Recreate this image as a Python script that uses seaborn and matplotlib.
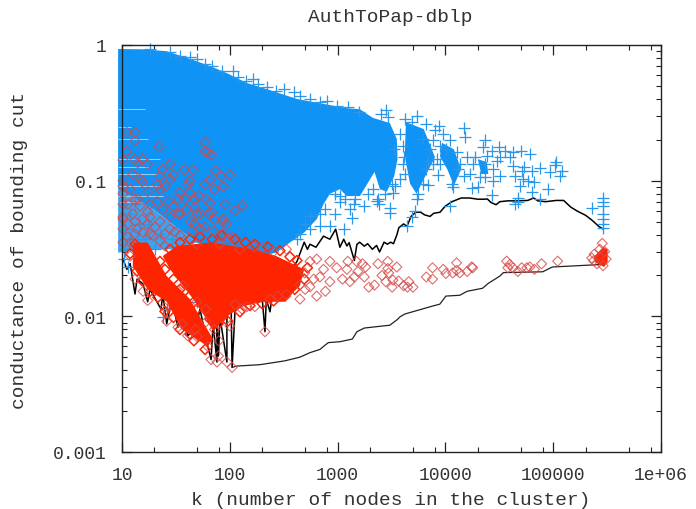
import matplotlib
matplotlib.use('Agg')
import matplotlib.pyplot as plt
import seaborn as sns

TITLE = 'AuthToPap-dblp'
X_LABEL = 'k (number of nodes in the cluster)'
Y_LABEL = 'conductance of bounding cut'
X_TICKS = [10, 100, 1000, 10000, 100000, 1000000]
X_TICK_LABELS = ['10', '100', '1000', '10000', '100000', '1e+06']
Y_TICKS = [0.001, 0.01, 0.1, 1]
Y_TICK_LABELS = ['0.001', '0.01', '0.1', '1']

BLUE = '#0f93f5'
RED = '#ff2400'

# dense part of the + cloud, outline
blue_k = [9.2, 15.7, 26, 42.7, 65.5, 94, 144, 220, 420, 740, 1220, 1610, 2130, 3050, 3540, 3600, 3350, 2860, 2470,
          2200, 1610, 1220, 1050, 848, 740, 640, 490, 361, 270, 190, 100, 49, 19.4, 9.2]
blue_phi = [.934, .93, .90, .79, .70, .62, .525, .473, .40, .368, .342, .336, .29, .266, .203, .144, .108, .083, .0865,
            .116, .077, .077, .0865, .08, .067, .052, .0415, .035, .0295, .0278, .0288, .035, .0616, .0865]
blob_b_k = [4300, 6300, 8000, 6400, 5400, 4700, 4200]
blob_b_phi = [.27, .24, .149, .105, .08, .095, .151]
blob_c_k = [9300, 12000, 14000, 12000, 10400, 8900]
blob_c_phi = [.19, .17, .1215, .092, .1215, .151]
blob_d_k = [20000, 24200, 25000, 21500]
blob_d_phi = [.144, .137, .112, .112]
lattice_k = [9.2, 19.4, 49, 32, 18.2, 9.2]
lattice_phi = [.0865, .0616, .035, .0312, .0312, .0295]

# pale gaps in the columns at small k
stripe_phi = [.337, .248, .202, .144, .126, .112, .091, .077, .070]
stripe_k = [16.3, 12, 17.3, 22.5, 17.3, 21.2, 22.5, 23.9, 15.4]

# single + marks
plus_k = [1250, 1570, 2520, 2800, 2920, 5400, 4880, 6650, 8700, 14800, 15100, 9550, 11000, 8000, 7600, 23200, 22100,
          27000, 31300, 35600, 42300, 50000, 60700, 107000, 103000, 93000, 120000, 115000, 75200, 51000, 63000, 54000,
          44000, 32000, 27500, 20900, 20000, 17500, 14800, 11700, 6900, 8500, 27000, 47000, 47000, 75200, 89000, 63000,
          67000, 49000, 44000, 228000, 290000, 290000, 290000, 290000, 290000, 290000, 290000, 5400, 5250, 3050, 3050,
          1770, 1370, 1140, 2300, 2420, 1420, 3260, 2130, 4880, 4450, 11000, 32000, 39600, 15700, 17900, 24200, 29900,
          42300, 58000, 52500, 8880, 8300, 12700, 13100, 3780, 3400, 6650, 6900, 7170, 4000, 4100,
          10.7, 11.9, 13.2, 14.7, 10.7, 11.9, 16.3, 10.7, 13.2, 11.4, 10.4, 15.6, 49.5, 23.9, 26, 18.2, 20.3, 14, 17.6,
          22.5, 29]
plus_phi = [.35, .32, .31, .33, .295, .30, .27, .26, .255, .245, .21, .22, .20, .235, .20, .20, .178,
            .165, .178, .165, .162, .165, .157, .137, .13, .116, .118, .108, .124, .118, .118, .126,
            .108, .108, .10, .106, .09, .088, .108, .09, .093, .11, .078, .075, .07, .073, .0865, .083,
            .097, .091, .067, .063, .075, .065, .057, .048, .052, .07, .045, .073, .06, .0625, .058,
            .0655, .053, .044, .071, .067, .067, .081, .0865, .054, .046, .065, .149, .149, .149, .133, .151, .14,
            .128, .10, .102, .18, .144, .163, .1215, .1025, .091, .1215, .14, .171, .18, .15,
            .067, .057, .067, .0477, .044, .037, .037, .0312, .0312, .0231, .0264, .0222, .0128, .0099, .0113, .0264,
            .0312, .037, .0477, .0405, .037]

# + marks that break up the edge of the dense cloud
edge_plus_k = [18.2, 27.9, 34.5, 42.7, 49.5, 58.8, 68.5, 84, 107, 120, 140, 163, 182, 220, 270, 316, 390, 447, 554, 685,
               800, 980,
               554, 685, 848, 1050, 554, 420, 770, 950, 685, 500, 447, 1180, 1300, 950,
               3350, 3780, 4000, 2760, 2350, 1900, 1450, 1050, 4220, 3200,
               4200, 6250, 7600, 5600, 6200, 8880, 13600, 11500, 10100, 16800, 23200, 27500, 18700, 23200]
edge_plus_phi = [.934, .888, .83, .815, .788, .725, .70, .643, .643, .58, .543, .562, .516, .49, .458, .473, .45, .42,
                 .40, .38, .387, .355,
                 .0545, .046, .046, .07, .0439, .037, .0616, .08, .057, .048, .0405, .073, .0616, .057,
                 .171, .22, .133, .08, .073, .08, .073, .077, .112, .095,
                 .284, .202, .133, .08, .094, .133, .133, .095, .171, .112, .133, .1215, .149, .106]

# solid red areas
red_body_k = [23.9, 32, 65.5, 167, 270, 490, 447, 316, 205, 133, 94, 70, 59, 44.5, 27.9]
red_body_phi = [.0278, .033, .035, .0312, .0278, .0222, .0168, .0128, .0128, .0119, .01, .0077, .0099, .0138, .0222]
red_arm_k = [12.6, 17.3, 26, 42.7, 52.9, 70, 62.5, 36, 26, 17.3, 12.6]
red_arm_phi = [.035, .035, .0198, .0134, .0099, .0068, .006, .008, .0128, .0158, .0234]
red_end_k = [237000, 290000, 320000, 320000, 297000, 245000]
red_end_phi = [.0273, .0323, .0312, .0254, .0231, .025]

# saturated diamonds along the edge of the red areas
edge_red_k = [27.9, 34.5, 42.7, 52.9, 68.5, 84, 112, 140, 171, 225, 292, 361, 420,
              13.2, 14.7, 11.9, 13.8, 15.4, 18.2, 21.5, 25, 30, 34.5, 42.7, 46.5, 59, 22.5, 25, 30, 34.5, 42.7, 49.5,
              65.5, 78, 96, 124, 154, 200, 255, 325, 400, 490, 525]
edge_red_phi = [.0312, .035, .037, .0385, .037, .0395, .037, .035, .034, .0325, .0305, .0275, .0258,
                .034, .0312, .029, .0216, .0183, .0153, .0138, .0109, .0098, .008, .0074, .0066, .0057, .0254, .0222,
                .0188, .0158, .0142, .0113, .0095, .0088, .0092, .0108, .012, .0124, .013, .0141, .0158, .0188, .0228]

# single diamonds
diamond_k = [11.1, 13.2, 13.2, 22, 58.8, 58.8, 68.5, 62.5, 11.1, 13.2, 15.4, 14, 10.2, 23.9, 37.8, 45.7, 74, 83, 100,
             65.5, 87, 30, 27.9, 22.5, 42.7, 12.6, 15.4, 10.2, 10.2, 130, 21.2, 25, 17.3, 14, 13.2, 21.2, 26.6, 34.5,
             42.7, 51.5, 47.5, 65.5, 68.5, 63, 47, 49.5, 33.5, 17.3, 10.2, 18.2, 87, 38.5, 30,
             87, 94, 87, 106, 44.5, 34.5, 19.4, 22.5, 25, 15.7, 11.9, 10.2, 10.2, 10.2, 11.9, 27.9, 34.5, 22.5, 13.8,
             15.4, 167, 200, 255, 335, 124, 81, 49.5,
             17.3, 15.7, 13.2, 26, 25, 33, 40.6, 49.5, 62.5, 67, 76, 78.5, 94, 105, 212, 79, 72, 100, 60, 60, 112, 171,
             130, 144, 280, 335, 447, 236, 37, 49.5, 48, 36,
             1245, 1500, 1700, 1820, 2370, 2920, 2920, 3540, 2980, 2580, 1540, 1220, 1770, 1430, 1110, 1300, 1950, 2200,
             2800, 3200, 3260, 3680, 4100, 4580, 5000, 4450, 6650, 7600, 7600, 9550, 10100, 11700, 12700, 12700, 13600,
             15900, 17500, 17900, 37000, 39600, 42300, 47000, 51000, 60700, 67000, 78000, 110000, 38000, 57000,
             554, 640, 740, 848, 980, 770, 640, 554, 848, 685, 495, 600, 447, 500,
             271000, 237000, 228000, 240000, 285000, 300000, 310000, 290000, 255000,
             11.4, 12.6, 11.4, 13.2, 14.7, 17.3, 18.2, 20.3, 23.9, 27.9, 33, 40, 47, 58.8, 72, 52.9, 60, 42.7, 31, 25,
             18.2, 11.4, 13.2, 10.2, 10.2, 11.9, 14.7, 17.3, 22.5, 27.9, 41, 58.8, 72, 90, 112, 52.9, 71, 96]
diamond_phi = [.227, .227, .196, .178, .192, .165, .155, .16, .165, .144, .144, .135, .142, .1215, .12, .12, .118, .108,
               .11, .101, .091, .11, .1025, .108, .10, .112, .098, .10, .091, .0655, .094, .09, .083, .073, .073, .07,
               .07, .082, .082, .077, .073, .0685, .0585, .057, .064, .057, .057, .059, .054, .054, .052, .073, .065,
               .05, .0485, .041, .038, .0425, .057, .0395, .036, .033, .0415, .035, .052, .044, .035, .0278, .044,
               .0395, .05, .044, .052, .0325, .032, .03, .0312, .0312, .034, .034,
               .0131, .0153, .0188, .0092, .0116, .0083, .0072, .0071, .006, .0048, .0046, .0051, .0046, .0042, .0077,
               .0066, .008, .0085, .0091, .0113, .0122, .0118, .0113, .0118, .0141, .0145, .0134, .0134, .0168, .0128,
               .008, .0088,
               .0254, .0254, .0244, .0231, .0244, .0254, .0225, .0231, .0209, .02, .0214, .0222, .0195, .0195, .0188,
               .018, .0164, .017, .018, .0164, .0185, .0182, .0168, .018, .0164, .0164, .0195, .0188, .0228, .0222,
               .0207, .0209, .0248, .0218, .0209, .0214, .0231, .0228, .0255, .0241, .0228, .0214, .0228, .0231, .0222,
               .0244, .0255, .0228, .0228,
               .0254, .0264, .0222, .0254, .0228, .0153, .0141, .0165, .018, .0195, .0209, .0188, .017, .0158,
               .0312, .0257, .0269, .0287, .0345, .030, .0264, .0236, .0244,
               .067, .057, .048, .0405, .065, .048, .067, .0455, .0616, .054, .073, .0616, .048, .0455, .052, .057, .073,
               .05, .042, .0405, .0405, .0385, .05, .067, .08, .0865, .1025, .133, .0865, .133, .094, .094, .0865, .067,
               .06, .0439, .0425, .037]

# upper black curve, with its spikes at small k
upper_k = [10, 11.1, 11.9, 13.2, 13.8, 15.7, 17.3, 18.2, 23, 23.9, 26, 29, 33, 34.5, 40.6, 48, 52.9, 62.5, 67, 70, 76,
           76, 78.5, 81, 94, 94, 103, 105, 112, 154, 200, 212, 218, 236, 248, 325, 420, 490, 525, 554, 630, 740, 848,
           960, 1050, 1140, 1220, 1280, 1430, 1510, 1600, 1770, 1900, 2100, 2300, 2450, 2700, 2900, 3100, 3300, 3550,
           3700, 4100, 4400, 4800, 5300, 5900, 6400, 7200, 7800, 8900, 10000, 11500, 14000, 16800, 20000, 23000, 24500,
           26500, 29500, 32000, 38000, 46000, 58000, 66000, 72000, 85000, 107000, 125000, 145000, 165000, 200000,
           230000, 265000, 290000]
upper_phi = [.0275, .0222, .0245, .0146, .0188, .0173, .0128, .0158, .0113, .0146, .0088, .0134, .0083, .0123, .0072,
             .008, .0113, .006, .0048, .0088, .0046, .0095, .0051, .0099, .0046, .0113, .0113, .0042, .0113, .0134,
             .0134, .0077, .0134, .0108, .0145, .0188, .0254, .0352, .0312, .034, .0323, .039, .037, .0439, .0323, .037,
             .033, .0349, .0258, .0339, .0352, .0329, .0343, .0312, .0333, .0298, .0352, .034, .0352, .0343, .04, .045,
             .048, .046, .0545, .0585, .0585, .056, .0545, .0575, .0585, .065, .07, .0745, .0745, .073, .073, .0733,
             .069, .0665, .07, .071, .071, .0715, .0745, .071, .07, .0715, .0715, .064, .06, .0555, .051, .046, .044]

# lower black curve
lower_k = [105, 116, 190, 325, 447, 554, 685, 740, 820, 1050, 1370, 1510, 1770, 3050, 3600, 3780, 4200, 7600, 8880,
           10100, 13600, 15900, 22100, 25000, 32000, 34500, 80000, 98000, 250000, 290000]
lower_phi = [.0042, .0043, .0044, .0047, .005, .0054, .0057, .006, .0064, .0065, .0068, .0077, .0082, .0086, .0095,
             .0099, .0104, .0119, .0123, .0141, .0143, .0153, .0161, .0175, .0198, .021, .0213, .0231, .024, .0242]

sns.set_style('ticks')
plt.rcParams['font.family'] = ['Liberation Mono', 'DejaVu Sans Mono']
plt.rcParams['text.color'] = '#333333'

fig = plt.figure(figsize=(6.96, 5.10), dpi=100)
ax = fig.add_axes([122 / 696, 1 - 453 / 510, 539 / 696, 407 / 510])
ax.set_xscale('log')
ax.set_yscale('log')

sns.lineplot(x=upper_k, y=upper_phi, sort=False, estimator=None, color='black', linewidth=1.1, zorder=1, ax=ax)
sns.lineplot(x=lower_k, y=lower_phi, sort=False, estimator=None, color='#222222', linewidth=0.9, zorder=1, ax=ax)

ax.fill(blue_k, blue_phi, color=BLUE, lw=0, clip_on=False, zorder=2)
ax.fill(blob_b_k, blob_b_phi, color=BLUE, lw=0, zorder=2)
ax.fill(blob_c_k, blob_c_phi, color=BLUE, lw=0, zorder=2)
ax.fill(blob_d_k, blob_d_phi, color=BLUE, lw=0, zorder=2)
ax.fill(lattice_k, lattice_phi, color='#3fa2ee', lw=0, clip_on=False, zorder=2)
ax.hlines(stripe_phi, 9.2, stripe_k, color='#9ccff5', lw=0.7, clip_on=False, zorder=2.2)
sns.scatterplot(x=plus_k + edge_plus_k, y=plus_phi + edge_plus_phi, marker='+', s=70, color='#2a97ea', linewidth=0.9,
                clip_on=False, zorder=2.4, legend=False, ax=ax)

ax.fill(red_body_k, red_body_phi, color=RED, lw=0, zorder=3)
ax.fill(red_arm_k, red_arm_phi, color=RED, lw=0, zorder=3)
ax.fill(red_end_k, red_end_phi, color=RED, lw=0, zorder=3)
sns.scatterplot(x=edge_red_k, y=edge_red_phi, marker='D', s=26, facecolor='none', edgecolor=RED, linewidth=1.1,
                clip_on=False, zorder=3, legend=False, ax=ax)
sns.scatterplot(x=diamond_k, y=diamond_phi, marker='D', s=26, facecolor='none', edgecolor='#d84848', linewidth=0.8,
                alpha=0.8, clip_on=False, zorder=4, legend=False, ax=ax)

ax.set_xlim(10, 1000000)
ax.set_ylim(0.001, 1)
ax.set_xticks(X_TICKS)
ax.set_xticklabels(X_TICK_LABELS, fontsize=13)
ax.set_yticks(Y_TICKS)
ax.set_yticklabels(Y_TICK_LABELS, fontsize=13)
ax.xaxis.set_minor_locator(matplotlib.ticker.LogLocator(base=10, subs=[2, 5, 8], numticks=12))
ax.yaxis.set_minor_locator(matplotlib.ticker.LogLocator(base=10, subs=range(2, 10), numticks=12))
ax.xaxis.set_minor_formatter(matplotlib.ticker.NullFormatter())
ax.yaxis.set_minor_formatter(matplotlib.ticker.NullFormatter())
ax.tick_params(which='major', direction='in', length=7, width=0.9, top=True, right=True, color='#222222',
               labelcolor='#333333')
ax.tick_params(which='minor', direction='in', length=3.5, width=0.8, top=True, right=True, color='#222222')
ax.tick_params(axis='x', which='major', pad=10)
ax.tick_params(axis='y', which='major', pad=11)
for spine in ax.spines.values():
    spine.set_visible(True)
    spine.set_linewidth(1.0)
    spine.set_color('#222222')
    spine.set_zorder(5)
ax.set_xlabel('')
ax.set_ylabel('')

fig.text(390 / 696, 1 - 18 / 510, TITLE, fontsize=14, ha='center', va='center')
fig.text(391 / 696, 1 - 501 / 510, X_LABEL, fontsize=14, ha='center', va='center')
fig.text(20 / 696, 1 - 250 / 510, Y_LABEL, fontsize=14, ha='center', va='center', rotation=90)

fig.savefig('out.png', dpi=100)
plt.close(fig)
